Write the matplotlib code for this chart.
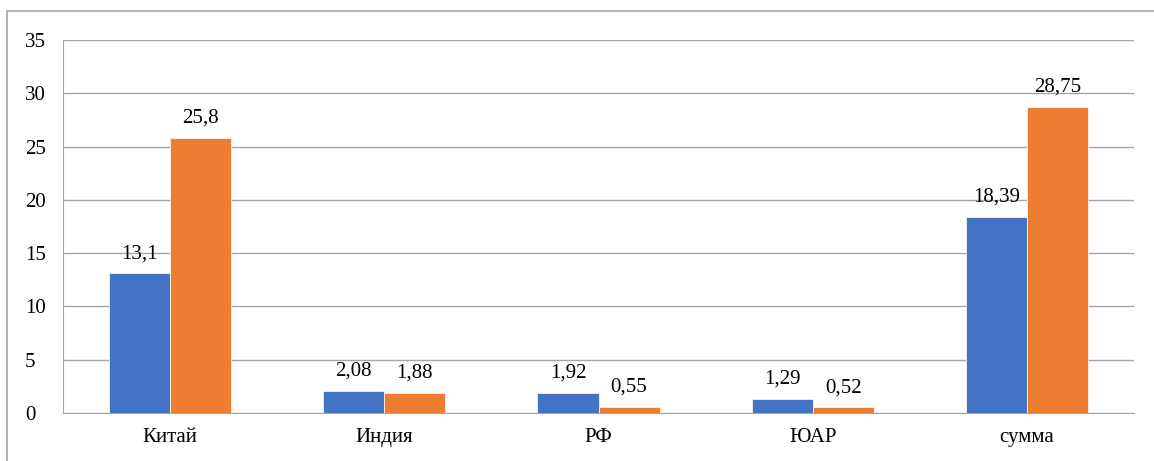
import numpy as np
import matplotlib.pyplot as plt
from matplotlib.patches import Rectangle

categories = ['Китай', 'Индия', 'РФ', 'ЮАР', 'сумма']
series1 = [13.1, 2.08, 1.92, 1.29, 18.39]
series2 = [25.8, 1.88, 0.55, 0.52, 28.75]
labels1 = ['13,1', '2,08', '1,92', '1,29', '18,39']
labels2 = ['25,8', '1,88', '0,55', '0,52', '28,75']

plt.rcParams['font.family'] = ['Liberation Serif', 'DejaVu Serif']
fs = 15

fig = plt.figure(figsize=(11.54, 4.61), dpi=100)
ax = fig.add_axes([63 / 1154, 1 - 413 / 461, (1134 - 63) / 1154, (413 - 40) / 461])

# chart frame (cut off at right and bottom)
fig.patches.append(Rectangle((7 / 1154, -0.1), 1.2, 1 - 11 / 461 + 0.1,
                             transform=fig.transFigure, fill=False,
                             edgecolor='#a6a6a6', linewidth=1.2))

x = np.arange(len(categories))
w = 0.285
b1 = ax.bar(x - w / 2, series1, w, color='#4472C4', edgecolor='white', linewidth=0.5, zorder=3)
b2 = ax.bar(x + w / 2, series2, w, color='#ED7D31', edgecolor='white', linewidth=0.5, zorder=3)

for bars, labs in ((b1, labels1), (b2, labels2)):
    for r, t in zip(bars, labs):
        ax.annotate(t, (r.get_x() + r.get_width() / 2, r.get_height()),
                    xytext=(0, 11), textcoords='offset points',
                    ha='center', va='baseline', fontsize=fs)

ax.set_xlim(-0.5, len(categories) - 0.5)
ax.set_ylim(0, 35)
ax.set_yticks(range(0, 36, 5))
ax.set_xticks(x)
ax.set_xticklabels(categories)
ax.tick_params(axis='both', length=0, labelsize=fs)
ax.tick_params(axis='x', pad=11)
ax.tick_params(axis='y', pad=27.5)
for lab in ax.get_yticklabels():
    lab.set_horizontalalignment('left')

ax.yaxis.grid(True, color='#a6a6a6', linewidth=1.0, zorder=0)
for s in ['top', 'right']:
    ax.spines[s].set_visible(False)
ax.spines['left'].set_color('#a6a6a6')
ax.spines['bottom'].set_color('#a6a6a6')

plt.savefig('out.png', dpi=100)
